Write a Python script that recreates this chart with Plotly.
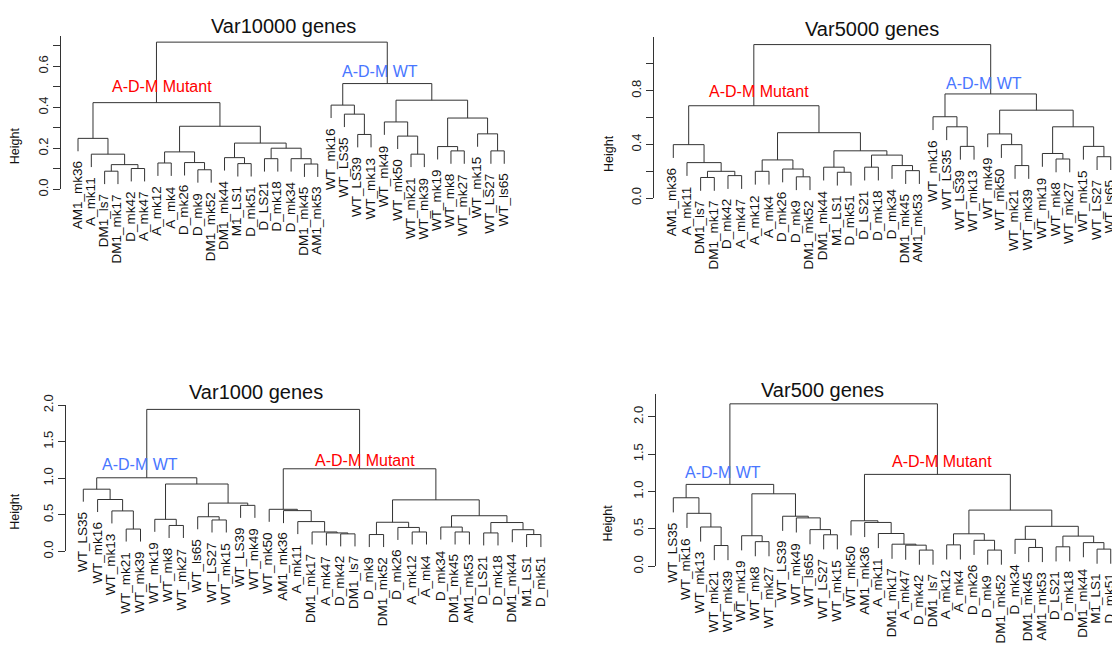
import plotly.graph_objects as go

W, H = 1112, 655

# ---------------- data ----------------
leaves_var10000 = ["AM1_mk36", "A_mk11", "DM1_ls7", "DM1_mk17", "D_mk42", "A_mk47", "A_mk12", "A_mk4",
                   "D_mk26", "D_mk9", "DM1_mk52", "DM1_mk44", "M1_LS1", "D_mk51", "D_LS21", "D_mk18",
                   "D_mk34", "DM1_mk45", "AM1_mk53", "WT_mk16", "WT_LS35", "WT_LS39", "WT_mk13", "WT_mk49",
                   "WT_mk50", "WT_mk21", "WT_mk39", "WT_mk19", "WT_mk8", "WT_mk27", "WT_mk15", "WT_LS27", "WT_ls65"]
# clusters: (first leaf, last leaf, merge height), leaves numbered in plotted order
merges_var10000 = [(3, 4, 0.089), (5, 6, 0.102), (3, 6, 0.121), (2, 6, 0.172), (1, 6, 0.249),
                   (7, 8, 0.129), (10, 11, 0.096), (9, 11, 0.131), (7, 11, 0.183),
                   (13, 14, 0.126), (12, 14, 0.155), (15, 16, 0.150), (18, 19, 0.124), (17, 19, 0.150),
                   (15, 19, 0.201), (12, 19, 0.226), (7, 19, 0.308), (1, 19, 0.423),
                   (22, 23, 0.268), (21, 23, 0.367), (20, 23, 0.411),
                   (26, 27, 0.172), (25, 27, 0.260), (24, 27, 0.329),
                   (29, 30, 0.188), (28, 30, 0.209), (32, 33, 0.188), (31, 33, 0.271), (28, 33, 0.348),
                   (24, 33, 0.435), (20, 33, 0.516), (1, 33, 0.718)]

leaves_var5000 = list(leaves_var10000)
merges_var5000 = [(3, 4, 0.153), (5, 6, 0.167), (3, 6, 0.199), (2, 6, 0.264), (1, 6, 0.398),
                  (7, 8, 0.199), (10, 11, 0.158), (9, 11, 0.216), (7, 11, 0.284),
                  (13, 14, 0.192), (12, 14, 0.230), (15, 16, 0.230), (18, 19, 0.204), (17, 19, 0.242),
                  (15, 19, 0.320), (12, 19, 0.352), (7, 19, 0.487), (1, 19, 0.688),
                  (22, 23, 0.385), (21, 23, 0.531), (20, 23, 0.606),
                  (26, 27, 0.242), (25, 27, 0.398), (24, 27, 0.478),
                  (29, 30, 0.291), (28, 30, 0.332), (32, 33, 0.308), (31, 33, 0.385), (28, 33, 0.531),
                  (24, 33, 0.655), (20, 33, 0.776), (1, 33, 1.144)]

leaves_var1000 = ["WT_LS35", "WT_mk16", "WT_mk13", "WT_mk21", "WT_mk39", "WT_mk19", "WT_mk8", "WT_mk27",
                  "WT_ls65", "WT_LS27", "WT_mk15", "WT_LS39", "WT_mk49", "WT_mk50", "AM1_mk36", "A_mk11",
                  "DM1_mk17", "A_mk47", "D_mk42", "DM1_ls7", "D_mk9", "DM1_mk52", "D_mk26", "A_mk12",
                  "A_mk4", "D_mk34", "DM1_mk45", "AM1_mk53", "D_LS21", "D_mk18", "DM1_mk44", "M1_LS1", "D_mk51"]
merges_var1000 = [(4, 5, 0.306), (3, 5, 0.554), (2, 5, 0.710), (1, 5, 0.851),
                  (7, 8, 0.355), (6, 8, 0.439), (10, 11, 0.430), (9, 11, 0.474), (12, 13, 0.630),
                  (9, 13, 0.661), (6, 13, 0.922), (1, 13, 1.007),
                  (19, 20, 0.240), (18, 20, 0.253), (17, 20, 0.266), (16, 20, 0.408), (15, 20, 0.558),
                  (14, 20, 0.576),
                  (21, 22, 0.231), (24, 25, 0.266), (23, 25, 0.328), (21, 25, 0.399),
                  (27, 28, 0.266), (26, 28, 0.333), (29, 30, 0.253), (32, 33, 0.231), (31, 33, 0.297),
                  (29, 33, 0.395), (26, 33, 0.488), (21, 33, 0.705), (14, 33, 1.130), (1, 33, 1.942)]

leaves_var500 = ["WT_LS35", "WT_mk16", "WT_mk13", "WT_mk21", "WT_mk39", "WT_mk19", "WT_mk8", "WT_mk27",
                 "WT_LS39", "WT_mk49", "WT_ls65", "WT_LS27", "WT_mk15", "WT_mk50", "AM1_mk36", "A_mk11",
                 "DM1_mk17", "A_mk47", "D_mk42", "DM1_ls7", "A_mk12", "A_mk4", "D_mk26", "D_mk9",
                 "DM1_mk52", "D_mk34", "DM1_mk45", "AM1_mk53", "D_LS21", "D_mk18", "DM1_mk44", "M1_LS1", "D_mk51"]
merges_var500 = [(4, 5, 0.278), (3, 5, 0.526), (2, 5, 0.709), (1, 5, 0.917),
                 (7, 8, 0.330), (6, 8, 0.409), (12, 13, 0.422), (11, 13, 0.491), (10, 13, 0.648),
                 (9, 13, 0.670), (6, 13, 0.970), (1, 13, 1.096),
                 (19, 20, 0.217), (18, 20, 0.283), (17, 20, 0.296), (16, 20, 0.439), (15, 20, 0.587),
                 (14, 20, 0.609),
                 (21, 22, 0.287), (24, 25, 0.217), (23, 25, 0.348), (21, 25, 0.435),
                 (27, 28, 0.252), (26, 28, 0.361), (29, 30, 0.261), (32, 33, 0.230), (31, 33, 0.317),
                 (29, 33, 0.404), (26, 33, 0.535), (21, 33, 0.752), (14, 33, 1.230), (1, 33, 2.174)]

titles = ["Var10000 genes", "Var5000 genes", "Var1000 genes", "Var500 genes"]
tick_values = [[0, 0.1, 0.2, 0.3, 0.4, 0.5, 0.6, 0.7],
               [0, 0.2, 0.4, 0.6, 0.8, 1.0],
               [0, 0.5, 1.0, 1.5, 2.0],
               [0, 0.5, 1.0, 1.5, 2.0]]
tick_labels = [["0.0", "", "0.2", "", "0.4", "", "0.6", ""],
               ["0.0", "", "0.4", "", "0.8", ""],
               ["0.0", "0.5", "1.0", "1.5", "2.0"],
               ["0.0", "0.5", "1.0", "1.5", "2.0"]]
axis_tops = [0.75, 1.2, 2.0, 2.3]
group_mutant = "A-D-M Mutant"
group_wt = "A-D-M WT"

# ---------------- layout (pixels) ----------------
panels = [
    dict(leaves=leaves_var10000, merges=merges_var10000, x0=78.0, s=13.32, axis_px=61.0, right_px=545,
         py0=183.5, k=211.0, title_xy=(283, 15), height_xy=(15, 139),
         mut_xy=(161.7, 78), wt_xy=(379.5, 62.3)),
    dict(leaves=leaves_var5000, merges=merges_var5000, x0=673.3, s=13.67, axis_px=654.3, right_px=1112,
         py0=192.3, k=137.9, title_xy=(872, 18.3), height_xy=(608.3, 146.7),
         mut_xy=(759.3, 82.3), wt_xy=(984, 75)),
    dict(leaves=leaves_var1000, merges=merges_var1000, x0=83.3, s=14.3, axis_px=65.7, right_px=560,
         py0=555.7, k=75.2, title_xy=(256, 391.7), height_xy=(15, 515),
         mut_xy=(364.7, 461.7), wt_xy=(139.5, 466.7)),
    dict(leaves=leaves_var500, merges=merges_var500, x0=673.3, s=13.67, axis_px=655.7, right_px=1112,
         py0=571.0, k=76.85, title_xy=(822, 390), height_xy=(608.3, 526.7),
         mut_xy=(942.3, 463.3), wt_xy=(723, 475)),
]

LINE = "#333333"
FONT = "Liberation Sans, Arial, Helvetica, sans-serif"


def dendro(leaves, merges):
    nodes = {(a, b): h for a, b, h in merges}
    hs = [h for _, _, h in merges]
    hang = 0.1 * (max(hs) - min(hs))
    xs, ys, leaf_pos = [], [], []

    def walk(a, b):
        if a == b:
            return float(a), None
        h = nodes[(a, b)]
        ends = [e for (s0, e) in nodes if s0 == a and e < b]
        c = max(ends) if ends else a
        assert c + 1 == b or (c + 1, b) in nodes
        cx = []
        for (p, q) in ((a, c), (c + 1, b)):
            x, y = walk(p, q)
            if y is None:
                y = h - hang
                leaf_pos.append((p, y))
            xs.extend([x, x, None])
            ys.extend([y, h, None])
            cx.append(x)
        xs.extend([cx[0], cx[1], None])
        ys.extend([h, h, None])
        return (cx[0] + cx[1]) / 2, h

    walk(1, len(leaves))
    return xs, ys, leaf_pos


fig = go.Figure()
annotations = []


def paper(px, py):
    return px / W, 1 - py / H


for i, p in enumerate(panels):
    n = i + 1
    xa = "x" if n == 1 else f"x{n}"
    ya = "y" if n == 1 else f"y{n}"
    xs, ys, leaf_pos = dendro(p["leaves"], p["merges"])
    fig.add_trace(go.Scatter(x=xs, y=ys, mode="lines", xaxis=xa, yaxis=ya,
                             line=dict(color=LINE, width=1), hoverinfo="skip", showlegend=False))
    top = axis_tops[i]
    py_top = p["py0"] - p["k"] * top
    xr0 = (p["axis_px"] - p["x0"]) / p["s"] + 1
    xr1 = (p["right_px"] - p["x0"]) / p["s"] + 1
    xkey = "xaxis" if n == 1 else f"xaxis{n}"
    ykey = "yaxis" if n == 1 else f"yaxis{n}"
    fig.update_layout({
        xkey: dict(domain=[p["axis_px"] / W, p["right_px"] / W], range=[xr0, xr1], visible=False,
                   anchor=ya),
        ykey: dict(domain=[1 - p["py0"] / H, 1 - py_top / H], range=[0, top], anchor=xa,
                   showline=True, linecolor=LINE, linewidth=1, showgrid=False, zeroline=False,
                   ticks="outside", ticklen=7, tickwidth=1, tickcolor=LINE,
                   tickvals=tick_values[i], ticktext=tick_labels[i], tickangle=-90,
                   tickfont=dict(family=FONT, size=13, color="#222222")),
    })
    for (leaf, yb) in leaf_pos:
        annotations.append(dict(x=leaf, y=yb, xref=xa, yref=ya, text=p["leaves"][leaf - 1],
                                textangle=-90, xanchor="center", yanchor="top", yshift=-8, xshift=-1,
                                showarrow=False, font=dict(family=FONT, size=13.5, color="#111111")))
    tx, ty = paper(*p["title_xy"])
    annotations.append(dict(x=tx, y=ty, xref="paper", yref="paper", text=titles[i], showarrow=False,
                            xanchor="center", yanchor="middle",
                            font=dict(family=FONT, size=20, color="#111111")))
    hx, hy = paper(*p["height_xy"])
    annotations.append(dict(x=hx, y=hy, xref="paper", yref="paper", text="Height", showarrow=False,
                            textangle=-90, xanchor="center", yanchor="middle",
                            font=dict(family=FONT, size=12.5, color="#111111")))
    mx, my = paper(*p["mut_xy"])
    annotations.append(dict(x=mx, y=my, xref="paper", yref="paper", text=group_mutant, showarrow=False,
                            xanchor="center", yanchor="middle",
                            font=dict(family=FONT, size=16, color="#FF0000")))
    wx, wy = paper(*p["wt_xy"])
    annotations.append(dict(x=wx, y=wy, xref="paper", yref="paper", text=group_wt, showarrow=False,
                            xanchor="center", yanchor="middle",
                            font=dict(family=FONT, size=16, color="#4876FF")))

fig.update_layout(width=W, height=H, margin=dict(l=0, r=0, t=0, b=0),
                  paper_bgcolor="white", plot_bgcolor="white", annotations=annotations,
                  showlegend=False)

fig.write_html("out.html")
